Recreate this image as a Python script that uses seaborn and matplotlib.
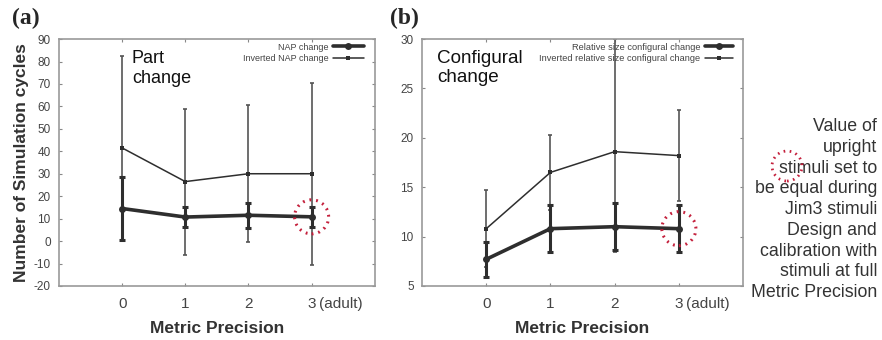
import numpy as np
import pandas as pd
import matplotlib
matplotlib.use("Agg")
import matplotlib.pyplot as plt
import seaborn as sns
from matplotlib.patches import Ellipse

# dados
precision = [0, 1, 2, 3]
tick_labels = ["0", "1", "2", "3"]

nap = [14.5, 10.7, 11.5, 10.8]
nap_err = [14.0, 4.5, 5.5, 4.5]
nap_inv = [41.5, 26.5, 30.0, 30.0]
nap_inv_err = [41.0, 32.5, 30.5, 40.5]

conf = [7.7, 10.8, 11.0, 10.8]
conf_err = [1.8, 2.4, 2.4, 2.4]
conf_inv = [10.8, 16.5, 18.6, 18.2]
conf_inv_lo = [3.9, 3.8, 10.2, 4.6]
conf_inv_hi = [3.9, 3.8, 11.4, 4.6]

side_note = ("Value of\nupright\nstimuli set to\nbe equal during\nJim3 stimuli\n"
             "Design and\ncalibration with\nstimuli at full\nMetric Precision")

sns.set_style("ticks")
plt.rcParams['font.family'] = ['Liberation Sans', 'DejaVu Sans']
plt.rcParams['axes.unicode_minus'] = False

fig = plt.figure(figsize=(8.82, 3.40), dpi=100)
ax1 = fig.add_axes([0.0669, 0.159, 0.358, 0.726])
ax2 = fig.add_axes([0.4785, 0.159, 0.364, 0.726])

dark = "#2e2e2e"
gray = "#555555"


def painel(ax, y, yerr, yinv, yinv_err, lab1, lab2, legsize, hlen, xpad):
    df = pd.DataFrame({"x": precision, "y": y, "yi": yinv})
    ax.errorbar(precision, yinv, yerr=yinv_err, fmt="none", ecolor=gray,
                elinewidth=1.2, capsize=1.5, capthick=1.2, zorder=2)
    ax.errorbar(precision, y, yerr=yerr, fmt="none", ecolor=dark,
                elinewidth=2.2, capsize=2.5, capthick=2.2, zorder=3)
    sns.lineplot(data=df, x="x", y="yi", ax=ax, color=dark, lw=1.1,
                 marker="s", markersize=3.5, markeredgewidth=0, label=lab2, zorder=4)
    sns.lineplot(data=df, x="x", y="y", ax=ax, color=dark, lw=2.6,
                 marker="o", markersize=5, markeredgewidth=0, label=lab1, zorder=5)
    h, l = ax.get_legend_handles_labels()
    ax.legend(h[::-1], l[::-1], loc="upper right", frameon=False, fontsize=legsize,
              markerfirst=False, handlelength=hlen, handletextpad=0.5,
              labelspacing=0.25, borderpad=0, borderaxespad=0,
              bbox_to_anchor=(1 - xpad, 1 - 0.014), labelcolor="#444444")
    ax.set_xlim(-1, 4)
    ax.set_xticks(precision)
    ax.set_xticklabels(tick_labels, fontsize=11, color="#444444")
    ax.annotate("(adult)", xy=(3, 0), xycoords=("data", "axes fraction"),
                xytext=(5, -8), textcoords="offset points", ha="left", va="top",
                fontsize=11, color="#444444")
    ax.set_xlabel("Metric Precision", fontsize=12.5, fontweight="bold",
                  color="#333333", labelpad=7)
    ax.tick_params(axis="both", direction="in", length=2.5, width=0.8,
                   top=True, right=True, colors="#888888")
    ax.tick_params(axis="y", labelsize=8.5, labelcolor="#444444", pad=6)
    ax.tick_params(axis="x", labelcolor="#444444", pad=8)
    for s in ax.spines.values():
        s.set_color("#999999")
        s.set_linewidth(1.2)


painel(ax1, nap, nap_err, nap_inv, nap_inv_err, "NAP change", "Inverted NAP change",
       6.5, 3.4, 11 / 316)
ax1.set_ylim(-20, 90)
ax1.set_yticks(np.arange(-20, 91, 10))
ax1.set_ylabel("Number of Simulation cycles", fontsize=12.5, fontweight="bold",
               color="#333333", labelpad=3)
ax1.text(0.231, 0.955, "Part\nchange", transform=ax1.transAxes, fontsize=13,
         va="top", ha="left", color="#111111", linespacing=1.2)

painel(ax2, conf, conf_err, conf_inv, [conf_inv_lo, conf_inv_hi],
       "Relative size configural change", "Inverted relative size configural change",
       6.7, 3.0, 10 / 321)
ax2.set_ylim(5, 30)
ax2.set_yticks(np.arange(5, 31, 5))
ax2.set_ylabel("")
ax2.text(0.047, 0.955, "Configural\nchange", transform=ax2.transAxes, fontsize=13.6,
         va="top", ha="left", color="#111111", linespacing=1.15)

# circulos vermelhos pontilhados
red = "#c4203c"
for ax, yv, r in [(ax1, nap[3], 17), (ax2, conf[3], 17)]:
    px, py = ax.transData.transform((3, yv))
    cx, cy = fig.transFigure.inverted().transform((px, py))
    fig.add_artist(Ellipse((cx, cy), 2 * r / 882, 2 * r / 340,
                           transform=fig.transFigure, fill=False, ec=red,
                           lw=2.2, ls=(0, (0.6, 1.6)), zorder=10))
fig.add_artist(Ellipse((787 / 882, 1 - 166 / 340), 30 / 882, 30 / 340,
                       transform=fig.transFigure, fill=False, ec=red,
                       lw=2.0, ls=(0, (0.6, 1.6)), zorder=10))

fig.text(877 / 882, 1 - 118 / 340, side_note, ha="right", va="top", fontsize=12.8,
         color="#333333", linespacing=1.29)

fig.text(12 / 882, 1 - 18 / 340, "(a)", fontsize=17, fontweight="bold",
         family="Liberation Serif", va="center", ha="left")
fig.text(390 / 882, 1 - 18 / 340, "(b)", fontsize=17, fontweight="bold",
         family="Liberation Serif", va="center", ha="left")

fig.savefig("out.png", dpi=100)
